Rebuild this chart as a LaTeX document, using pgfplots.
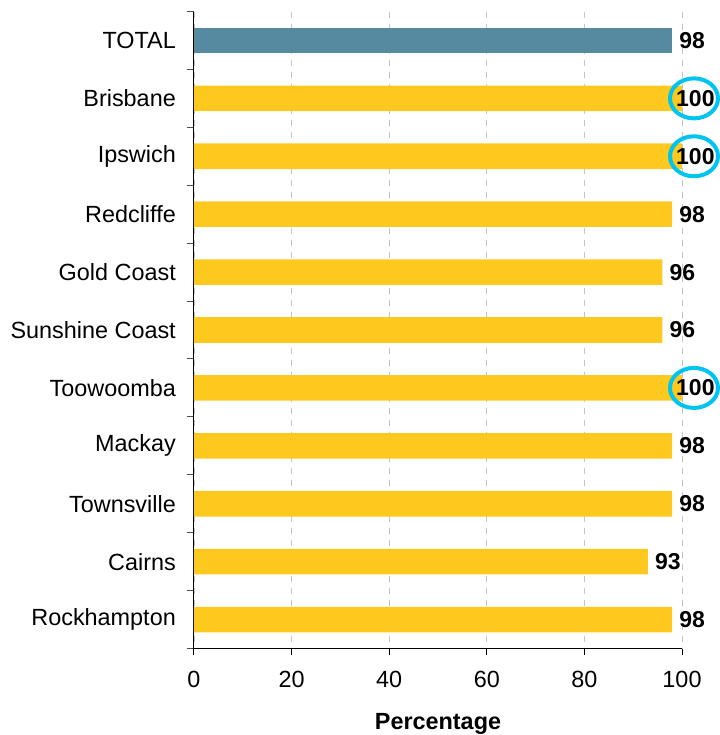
\documentclass[border=0pt]{standalone}
\usepackage{fontspec}
\setmainfont{Liberation Sans}
\usepackage{pgfplots}
\pgfplotsset{compat=1.18}
\usepackage{pgfplotstable}
\definecolor{tealbar}{HTML}{568AA0}
\definecolor{yelbar}{HTML}{FDC91F}
\definecolor{ellcyan}{HTML}{00C4F0}
\definecolor{gridgray}{HTML}{C4C4C4}

\pgfplotstableread{
y val
0 98
}\totaldata
\pgfplotstableread{
y val
3 98
4 96
5 96
7 98
8 98
9 93
10 98
}\yellowdata
\pgfplotstableread{
y val
1 100
2 100
6 100
}\fulldata

\begin{document}
\begin{tikzpicture}
\begin{axis}[
  name=ax,
  scale only axis,
  width=488bp, height=637bp,
  xmin=0, xmax=100,
  ymin=-0.5, ymax=10.5,
  y dir=reverse,
  clip=false,
  axis x line*=bottom,
  axis y line*=left,
  axis line style={black, line width=1bp},
  tick align=outside,
  xtick={0,20,...,100},
  ytick={0,...,10},
  yticklabels={TOTAL,Brisbane,Ipswich,Redcliffe,Gold Coast,Sunshine Coast,Toowoomba,Mackay,Townsville,Cairns,Rockhampton},
  minor ytick={-0.5,0.5,...,10.5},
  major tick length=6bp,
  minor tick length=7bp,
  major y tick style={draw=none},
  minor y tick style={black!70, line width=1bp},
  major x tick style={black, line width=1bp},
  xmajorgrids,
  major grid style={gridgray, dash pattern=on 6bp off 6bp, line width=0.8bp},
  /pgf/number format/assume math mode=true,
  tick label style={font=\fontsize{23.4bp}{28bp}\selectfont},
  yticklabel style={anchor=east, inner sep=0pt, xshift=-12bp},
  xticklabel style={anchor=north, inner sep=0pt, yshift=-16bp},
  xlabel={\textbf{Percentage}},
  xlabel style={font=\fontsize{23.4bp}{28bp}\selectfont, inner sep=0pt, anchor=north, yshift=-26bp},
]
\addplot[xbar, bar width=25.6bp, bar shift=0pt, fill=tealbar, draw=none,
  nodes near coords, point meta=x,
  every node near coord/.style={anchor=west, inner sep=0pt, xshift=7bp, font=\fontsize{23bp}{27bp}\selectfont\bfseries}]
  table[x=val, y=y] {\totaldata};
\addplot[xbar, bar width=25.6bp, bar shift=0pt, fill=yelbar, draw=none,
  nodes near coords, point meta=x,
  every node near coord/.style={anchor=west, inner sep=0pt, xshift=7bp, font=\fontsize{23bp}{27bp}\selectfont\bfseries}]
  table[x=val, y=y] {\yellowdata};
\addplot[xbar, bar width=25.6bp, bar shift=0pt, fill=yelbar, draw=none,
  nodes near coords, point meta=x,
  every node near coord/.style={anchor=west, inner sep=0pt, xshift=-6bp, font=\fontsize{23bp}{27bp}\selectfont\bfseries}]
  table[x=val, y=y] {\fulldata};
\addplot[only marks, mark=o, mark size=20bp,
  mark options={xshift=12bp, xscale=1.2, draw=ellcyan, line width=4bp, fill=none}]
  table[x=val, y=y] {\fulldata};
\end{axis}
\pgfresetboundingbox
\path[use as bounding box] (ax.south west) ++(-194bp,-86.5bp) rectangle ++(720bp,735bp);
\end{tikzpicture}
\end{document}
